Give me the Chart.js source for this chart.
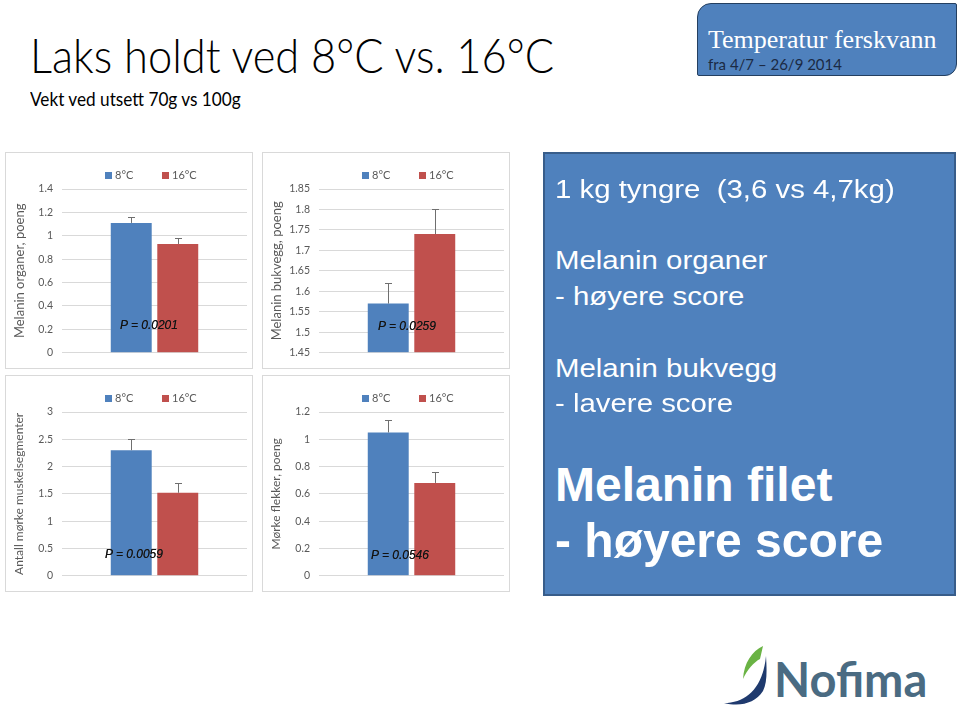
<!DOCTYPE html>
<html>
<head>
<meta charset="utf-8">
<script src="https://cdn.jsdelivr.net/npm/chart.js@4"></script>
<style>
  html, body { margin:0; padding:0; background:#fff; }
  body { width:960px; height:708px; position:relative; overflow:hidden; font-family:"Lato", sans-serif; }
  .abs { position:absolute; white-space:pre; }
  .panel { position:absolute; width:246px; height:215px; border:1px solid #d9d9d9; background:#fff; }
  .panel canvas { position:absolute; left:0; top:0; }
  .legend { position:absolute; top:15px; left:99px; display:flex; font-family:"Lato",sans-serif; font-size:11px; color:#595959; line-height:14px; }
  .legend .item { display:flex; align-items:center; }
  .legend .sw { width:7px; height:7px; margin-right:3px; }
  .ptext { position:absolute; font-family:"Liberation Sans",Arial,sans-serif; font-style:italic; font-size:12px; color:#111; line-height:12px; text-shadow:0 0 0.6px #333; }
  .box { position:absolute; left:543px; top:152px; width:409px; height:440px; background:#4f81bd; border:2px solid #385d8a; }
  .bt { position:absolute; left:555px; color:#fff; font-family:"Liberation Sans",Arial,sans-serif; line-height:1; white-space:pre; transform-origin:0 0; }
  .reg { font-size:26px; transform:scaleX(1.13); }
</style>
</head>
<body>

<div class="abs" style="left:30px; top:32px; font-family:'Lato',sans-serif; font-weight:300; font-size:47px; line-height:1; color:#000; transform:scaleX(0.925); transform-origin:0 0;">Laks holdt ved 8°C vs. 16°C</div>
<div class="abs" style="left:30px; top:89px; font-family:'Lato',sans-serif; font-size:19px; line-height:1; color:#000; transform:scaleX(0.905); transform-origin:0 0;">Vekt ved utsett 70g vs 100g</div>

<div class="abs" style="left:697px; top:3px; width:258px; height:71px; background:#4f81bd; border:1.5px solid #243f60; border-radius:14px 2px 12px 2px;"></div>
<div class="abs" style="left:708px; top:27px; font-family:'Liberation Serif','Times New Roman',serif; font-size:26px; line-height:1; color:#fff;">Temperatur ferskvann</div>
<div class="abs" style="left:708px; top:57px; font-family:'Lato',sans-serif; font-size:15px; line-height:1; color:#1b2a44;">fra 4/7 – 26/9 2014</div>

<div class="panel" id="p1" style="left:5px; top:152px;"><canvas id="c1" width="246" height="215"></canvas></div>
<div class="panel" id="p2" style="left:262px; top:152px;"><canvas id="c2" width="246" height="215"></canvas></div>
<div class="panel" id="p3" style="left:5px; top:375px;"><canvas id="c3" width="246" height="215"></canvas></div>
<div class="panel" id="p4" style="left:262px; top:375px;"><canvas id="c4" width="246" height="215"></canvas></div>

<div class="box"></div>
<div class="bt reg" style="top:176px;">1 kg tyngre  (3,6 vs 4,7kg)</div>
<div class="bt reg" style="top:247px;">Melanin organer</div>
<div class="bt reg" style="top:283px;">- høyere score</div>
<div class="bt reg" style="top:355px;">Melanin bukvegg</div>
<div class="bt reg" style="top:390px;">- lavere score</div>
<div class="bt" style="top:461px; font-size:48px; font-weight:bold;">Melanin filet</div>
<div class="bt" style="top:517px; font-size:48px; font-weight:bold;">- høyere score</div>

<svg class="abs" style="left:700px; top:630px;" width="260" height="78" viewBox="0 0 260 78">
  <path d="M63,16 C52,21 44,33 43,49 C47,40 54,32 60,29 C61,25 62,20 63,16 Z" fill="#6ab344"/>
  <path d="M24,73 C46,73 63,58 66,26 C67,42 67,53 63,61 C55,73 41,77 24,73 Z" fill="#1f3a6e"/>
  <text x="74" y="67" font-family="Lato, sans-serif" font-weight="bold" font-size="47" fill="#4a6b82">Nofima</text>
</svg>

<script>
// ---- data ----
const categories = ['8°C', '16°C'];

const organerMeans  = [1.11, 0.93];
const organerErrors = [0.05, 0.05];
const organerTicks  = [0, 0.2, 0.4, 0.6, 0.8, 1, 1.2, 1.4];
const organerTitle  = 'Melanin organer, poeng';
const organerP      = 'P = 0.0201';

const bukveggMeans  = [1.57, 1.74];
const bukveggErrors = [0.05, 0.06];
const bukveggTicks  = [1.45, 1.5, 1.55, 1.6, 1.65, 1.7, 1.75, 1.8, 1.85];
const bukveggTitle  = 'Melanin bukvegg, poeng';
const bukveggP      = 'P = 0.0259';

const segmentMeans  = [2.3, 1.52];
const segmentErrors = [0.2, 0.17];
const segmentTicks  = [0, 0.5, 1, 1.5, 2, 2.5, 3];
const segmentTitle  = 'Antall mørke muskelsegmenter';
const segmentP      = 'P = 0.0059';

const flekkerMeans  = [1.05, 0.68];
const flekkerErrors = [0.09, 0.08];
const flekkerTicks  = [0, 0.2, 0.4, 0.6, 0.8, 1, 1.2];
const flekkerTitle  = 'Mørke flekker, poeng';
const flekkerP      = 'P = 0.0546';

// ---- styles ----
const seriesColors = ['#4f81bd', '#c0504d'];
const textGrey = '#595959';

const errorBarPlugin = {
  id: 'errorBars',
  afterDatasetsDraw(chart) {
    const ctx = chart.ctx;
    const ys = chart.scales.y;
    chart.data.datasets.forEach((ds, di) => {
      const meta = chart.getDatasetMeta(di);
      meta.data.forEach((bar, j) => {
        const v = ds.data[j];
        const e = ds.errorValues[j];
        const x = Math.round(bar.x);
        const y0 = ys.getPixelForValue(v);
        const y1 = Math.round(ys.getPixelForValue(v + e)) + 0.5;
        ctx.save();
        ctx.strokeStyle = '#6f6f6f';
        ctx.lineWidth = 1;
        ctx.beginPath();
        ctx.moveTo(x + 0.5, y0);
        ctx.lineTo(x + 0.5, y1);
        ctx.moveTo(x - 3, y1);
        ctx.lineTo(x + 4, y1);
        ctx.stroke();
        ctx.restore();
      });
    });
  }
};

function makeChart(panelId, canvasId, means, errors, ticks, title, pText, pPos, titleSize) {
  const datasets = categories.map((c, i) => ({
    label: c,
    data: [means[i]],
    errorValues: [errors[i]],
    backgroundColor: seriesColors[i],
    borderWidth: 0,
    base: ticks[0],
    categoryPercentage: 0.503,
    barPercentage: 0.88
  }));
  const chart = new Chart(document.getElementById(canvasId), {
    type: 'bar',
    data: { labels: [''], datasets },
    options: {
      responsive: false,
      animation: false,
      devicePixelRatio: 1,
      layout: { padding: { left: 4, right: 5, top: 36, bottom: 14 } },
      plugins: { legend: { display: false }, tooltip: { enabled: false } },
      scales: {
        x: { display: false },
        y: {
          min: ticks[0],
          max: ticks[ticks.length - 1],
          afterBuildTicks: (axis) => { axis.ticks = ticks.map(v => ({ value: v })); },
          afterFit: (axis) => { axis.width = 52; },
          border: { display: false },
          grid: { color: '#d9d9d9', drawTicks: false },
          ticks: {
            color: textGrey,
            padding: 9,
            font: { family: 'Lato', size: 10.5 },
            callback: (v) => String(+Number(v).toFixed(2))
          },
          title: {
            display: true,
            text: title,
            color: textGrey,
            font: { family: 'Lato', size: titleSize },
            padding: { top: 2, bottom: 0 }
          }
        }
      }
    },
    plugins: [errorBarPlugin]
  });

  // legend built from the chart's datasets
  const panel = document.getElementById(panelId);
  const leg = document.createElement('div');
  leg.className = 'legend';
  chart.data.datasets.forEach((ds, i) => {
    const it = document.createElement('div');
    it.className = 'item';
    if (i === 0) it.style.width = '57px';
    const sw = document.createElement('span');
    sw.className = 'sw';
    sw.style.background = ds.backgroundColor;
    const tx = document.createElement('span');
    tx.textContent = ds.label;
    it.appendChild(sw); it.appendChild(tx);
    leg.appendChild(it);
  });
  panel.appendChild(leg);

  const p = document.createElement('div');
  p.className = 'ptext';
  p.textContent = pText;
  p.style.left = pPos[0] + 'px';
  p.style.top = pPos[1] + 'px';
  panel.appendChild(p);
}

makeChart('p1', 'c1', organerMeans, organerErrors, organerTicks, organerTitle, organerP, [114, 166], 13);
makeChart('p2', 'c2', bukveggMeans, bukveggErrors, bukveggTicks, bukveggTitle, bukveggP, [115, 167], 13);
makeChart('p3', 'c3', segmentMeans, segmentErrors, segmentTicks, segmentTitle, segmentP, [99, 172], 12);
makeChart('p4', 'c4', flekkerMeans, flekkerErrors, flekkerTicks, flekkerTitle, flekkerP, [108, 173], 12);
</script>
</body>
</html>
